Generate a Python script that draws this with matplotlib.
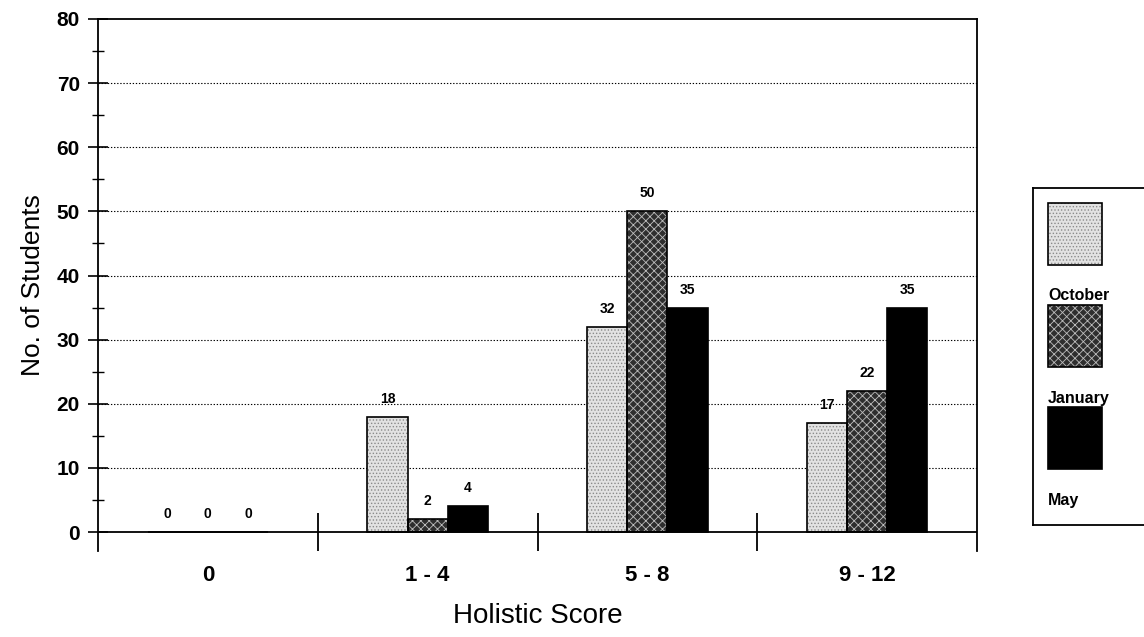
import matplotlib
matplotlib.use('Agg')
import matplotlib.pyplot as plt
import numpy as np
from matplotlib.patches import Rectangle

plt.rcParams['font.family'] = ['Liberation Sans', 'DejaVu Sans']
plt.rcParams['hatch.linewidth'] = 0.6

# Data
categories = ['0', '1 - 4', '5 - 8', '9 - 12']
months = ['October', 'January', 'May']
october = [0, 18, 32, 17]
january = [0, 2, 50, 22]
may = [0, 4, 35, 35]
series = [october, january, may]

# Styles per series: face, hatch, hatch colour
styles = [('#e2e2e2', '.....', '#8a8a8a'),
          ('#2e2e2e', 'xxxx', '#bdbdbd'),
          ('#000000', None, '#000000')]

fig = plt.figure(figsize=(11.44, 6.37), dpi=100)
ax = fig.add_axes([98 / 1144, 1 - 551 / 637, (977 - 98) / 1144, (551 - 19) / 637])

x = np.arange(len(categories))
w = 0.183
for k, (vals, (face, hatch, hcol)) in enumerate(zip(series, styles)):
    pos = x + (k - 1) * w
    ax.bar(pos, vals, w, color=face, hatch=hatch, edgecolor=hcol, linewidth=0, zorder=3)
    ax.bar(pos, vals, w, fill=False, edgecolor='black', linewidth=1.2, zorder=4)
    for px, v in zip(pos, vals):
        ax.annotate(str(v), (px, v), xytext=(0, 13), textcoords='offset points',
                    ha='center', va='center', fontsize=10, fontweight='bold', zorder=5)

ax.set_xlim(-0.5, len(categories) - 0.5)
ax.set_ylim(-2.96, 80)

# axes frame
ax.spines['bottom'].set_visible(False)
for s in ['left', 'right', 'top']:
    ax.spines[s].set_linewidth(1.3)
ax.axhline(0, color='black', lw=1.3, zorder=4)
ax.vlines(x[:-1] + 0.5, -2.96, 3, color='black', lw=1.3, zorder=4)

# y axis
ax.set_yticks(np.arange(0, 81, 10))
ax.set_yticks(np.arange(5, 80, 10), minor=True)
ax.tick_params(axis='y', which='major', direction='inout', length=14, width=1.2,
               labelsize=15, pad=6)
ax.tick_params(axis='y', which='minor', direction='inout', length=9, width=1.0)
for lab in ax.get_yticklabels():
    lab.set_fontweight('bold')
for yv in range(10, 80, 10):
    ax.axhline(yv, color='black', lw=0.8, linestyle=(0, (1.2, 1.6)), zorder=1)

# x axis
ax.set_xticks(x)
ax.set_xticklabels(categories, fontsize=16, fontweight='bold')
ax.tick_params(axis='x', length=0, pad=10)

ax.set_ylabel('No. of Students', fontsize=19, labelpad=8)
ax.set_xlabel('Holistic Score', fontsize=20, labelpad=12)

# legend box with labels under the swatches
lax = fig.add_axes([1033 / 1144, 1 - 525 / 637, 0.2, (525 - 188) / 637])
lax.set_xlim(0, 1)
lax.set_ylim(337, 0)
lax.set_xticks([])
lax.set_yticks([])
for s in lax.spines.values():
    s.set_linewidth(1.3)
for k, ((face, hatch, hcol), name) in enumerate(zip(styles, months)):
    top = 15 + k * 102
    lax.add_patch(Rectangle((0.066, top), 0.236, 62, facecolor=face, hatch=hatch,
                            edgecolor=hcol, linewidth=0))
    lax.add_patch(Rectangle((0.066, top), 0.236, 62, fill=False, edgecolor='black',
                            linewidth=1.2))
    lax.text(0.066, top + 93, name, fontsize=11.5, fontweight='bold', va='center', ha='left')

fig.savefig('out.png', dpi=100)
